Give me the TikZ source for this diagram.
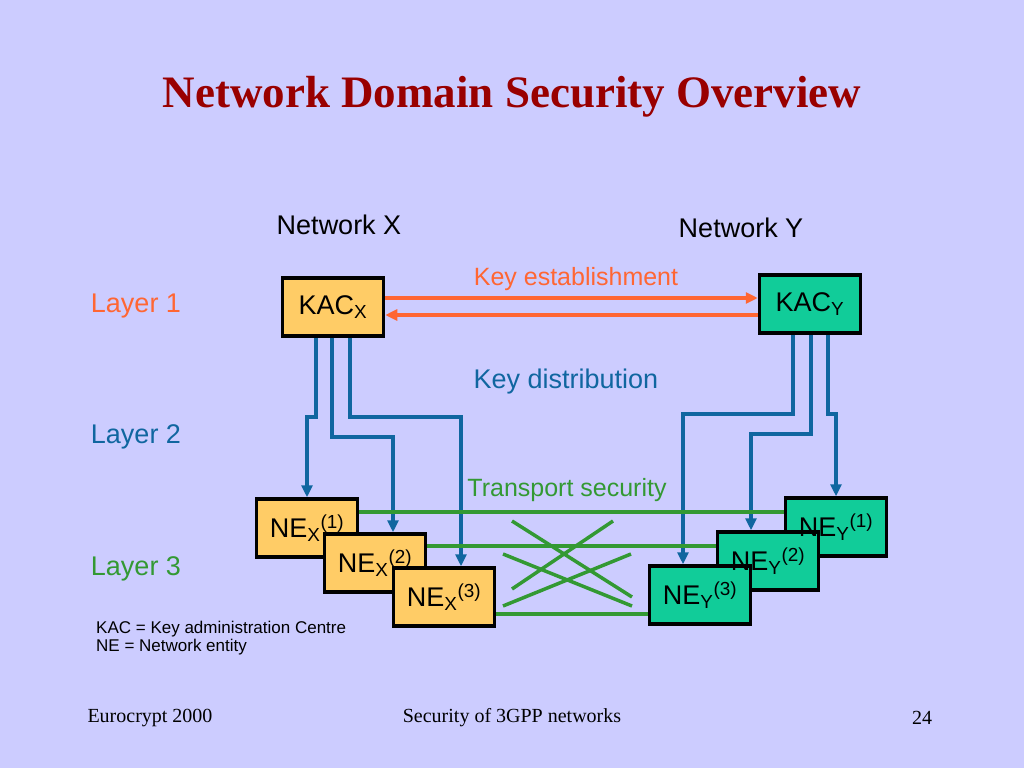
\documentclass[tikz,border=0pt]{standalone}
\usepackage{fontspec}
\setmainfont{Liberation Sans}
\newfontfamily\slideserif{Liberation Serif}
\usetikzlibrary{arrows.meta}
\definecolor{slidebg}{HTML}{CCCCFF}
\definecolor{estorange}{HTML}{FF6633}
\definecolor{distblue}{HTML}{1066A0}
\definecolor{transgreen}{HTML}{339933}
\definecolor{xfill}{HTML}{FFCC66}
\definecolor{yfill}{HTML}{11CC99}
\definecolor{titlered}{HTML}{990000}
\tikzset{
  entity/.style={draw=black, line width=3.5pt, minimum width=101pt, minimum height=58pt, inner sep=0pt},
  keyest/.style={estorange, line width=3.5pt, -{Triangle[length=12pt,width=11pt]}},
  keydist/.style={distblue, line width=3.5pt, -{Triangle[length=12pt,width=11pt]}},
  transport/.style={transgreen, line width=3.5pt},
  labelbig/.style={font=\fontsize{27}{32}\selectfont},
  labelmid/.style={font=\fontsize{25}{30}\selectfont},
}
\begin{document}
\begin{tikzpicture}[x=1pt, y=-1pt]
    \fill[slidebg] (0,0) rectangle (1024,768);
    % Titulo
    \node[text=titlered, font=\slideserif\bfseries\fontsize{45}{50}\selectfont] (title) at (512,97) {Network Domain Security Overview};

    % Redes y capas
    \node[labelbig] (netx) at (339,225) {Network X};
    \node[labelbig] (nety) at (741,228) {Network Y};
    \foreach \y/\col/\n in {
        306/estorange/1,
        437/distblue/2,
        569/transgreen/3} {
        \node[labelbig, text=\col] (layer\n) at (136,\y) {Layer \n};
    }

    % Capa 1
    \node[entity, fill=xfill, labelbig] (kacx) at (333,307) {KAC\textsubscript{X}};
    \node[entity, fill=yfill, labelbig] (kacy) at (810,304) {KAC\textsubscript{Y}};
    \draw[keyest] ([yshift=9pt]kacx.east) -- ([yshift=9pt]kacx.east -| kacy.west);
    \draw[keyest] ([yshift=-8pt]kacx.east -| kacy.west) -- ([yshift=-8pt]kacx.east);
    \node[labelmid, text=estorange] (est) at (576,279) {Key establishment};

    % Capa 3
    \foreach \n/\x/\y in {1/307/528, 2/375/563, 3/444/597} {
        \node[entity, fill=xfill] (nex\n) at (\x,\y) {};
    }
    \foreach \n/\x/\y in {1/836/527, 2/768/561, 3/700/595} {
        \node[entity, fill=yfill] (ney\n) at (\x,\y) {};
    }
    \foreach \n in {1,2,3} {
        \node[labelbig] (nexl\n) at (nex\n) {NE\textsubscript{X}\textsuperscript{(\n)}};
        \node[labelbig] (neyl\n) at (ney\n) {NE\textsubscript{Y}\textsuperscript{(\n)}};
    }

    % Capa 2
    \foreach \src/\sx/\by/\tx/\n in {
        kacx/316/417/307/nex1,
        kacx/332/437/393/nex2,
        kacx/350/417/461/nex3,
        kacy/793/414/683/ney3,
        kacy/811/434/751/ney2,
        kacy/828/414/836/ney1} {
        \draw[keydist] (\src.south -| \sx,0) -- (\sx,\by) -| (\tx,0 |- \n.north);
    }
    \node[labelbig, text=distblue] (dist) at (566,382) {Key distribution};

    % Seguridad de transporte
    \foreach \n/\s in {1/16, 2/17, 3/-17} {
        \draw[transport] ([yshift=\s pt]nex\n.east) -- ([yshift=\s pt]nex\n.east -| ney\n.west);
    }
    \draw[transport] (512,521) -- (632,597);
    \draw[transport] (613,521) -- (512,589);
    \draw[transport] (503,554) -- (632,606);
    \draw[transport] (631,554) -- (503,606);
    \node[labelmid, text=transgreen] (trans) at (567,490) {Transport security};

    % Leyenda y pie
    \node[anchor=west, align=left, inner sep=0pt, font=\fontsize{17}{18}\selectfont] (legend) at (96,638) {KAC = Key administration Centre\\NE = Network entity};
    \foreach \x/\txt/\nm in {150/Eurocrypt 2000/left, 512/Security of 3GPP networks/centre, 922/24/right} {
        \node[font=\slideserif\fontsize{20}{24}\selectfont] (foot\nm) at (\x,718) {\txt};
    }
\end{tikzpicture}
\end{document}
